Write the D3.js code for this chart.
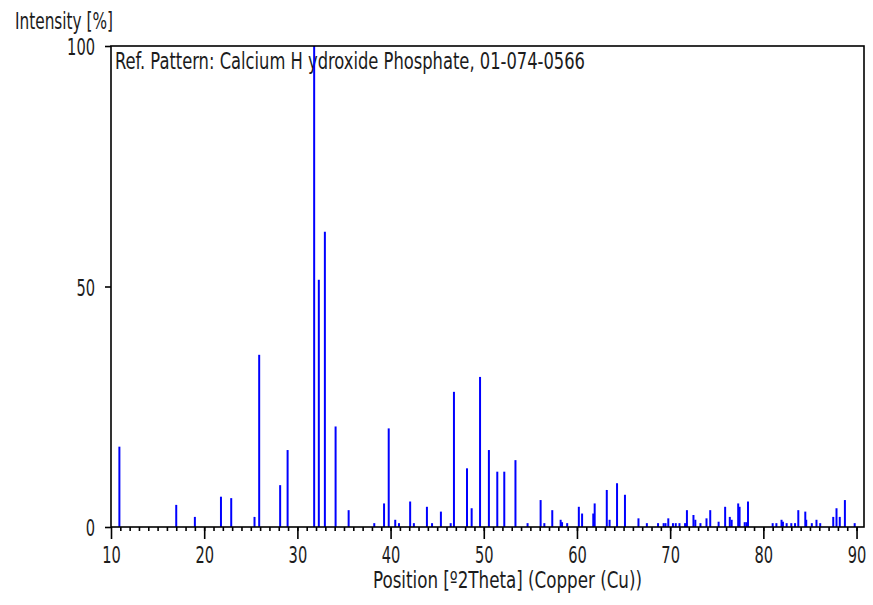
<!DOCTYPE html>
<html>
<head>
<meta charset="utf-8">
<script src="https://cdn.jsdelivr.net/npm/d3@7"></script>
<style>
  body { margin: 0; background: #fff; }
  text { font-family: "Liberation Sans Narrow", "Arial Narrow", "DejaVu Sans Condensed", sans-serif; fill: #1c1c1c; }
</style>
</head>
<body>
<svg width="873" height="605"></svg>
<script>
// reference pattern: peak positions (deg 2theta) and relative intensities (%)
const positions = [
  10.9, 17.0, 19.0, 21.8, 22.9, 25.4, 25.9, 28.15, 28.95,
  31.8, 32.3, 32.95, 34.1, 35.5, 38.25, 39.3, 39.8, 40.5, 40.9,
  42.1, 42.5, 43.9, 44.45, 45.4, 46.45, 46.8, 48.2, 48.7, 49.6,
  50.55, 51.45, 52.2, 53.4, 54.7, 56.1, 56.5, 57.35, 58.25, 58.4, 58.95,
  60.2, 60.55, 61.75, 61.9, 63.2, 63.5, 64.3, 65.15, 66.6, 67.5, 68.7,
  69.3, 69.5, 69.8, 70.3, 70.6, 71.0, 71.6, 71.8, 72.5, 72.7, 73.25,
  73.9, 74.3, 75.2, 75.9, 76.4, 76.6, 77.3, 77.45, 78.0, 78.2, 78.35,
  81.0, 81.4, 81.95, 82.1, 82.5, 83.0, 83.4, 83.75, 84.5, 84.6, 85.2,
  85.7, 86.1, 87.5, 87.85, 88.2, 88.75, 89.8
];
const intensities = [
  16.7, 4.6, 2.1, 6.3, 6.0, 2.1, 35.8, 8.7, 16.0,
  100, 51.4, 61.4, 20.9, 3.5, 0.8, 4.9, 20.5, 1.5, 0.8,
  5.3, 0.8, 4.2, 0.8, 3.2, 0.8, 28.1, 12.2, 3.9, 31.2,
  16.0, 11.5, 11.5, 13.9, 0.8, 5.6, 0.8, 3.5, 1.5, 1.0, 0.8,
  4.2, 2.8, 2.8, 4.9, 7.7, 1.5, 9.1, 6.7, 1.8, 0.8, 0.8,
  0.8, 0.8, 1.8, 0.8, 0.8, 0.8, 0.8, 3.5, 2.5, 1.5, 0.8,
  1.8, 3.5, 1.1, 4.2, 2.1, 1.5, 4.9, 4.2, 1.0, 1.0, 5.3,
  0.8, 0.8, 1.5, 1.1, 0.8, 0.8, 0.8, 3.5, 3.2, 1.5, 0.8,
  1.5, 0.8, 2.1, 3.9, 2.1, 5.6, 0.8
];
const xMajorTicks = [10, 20, 30, 40, 50, 60, 70, 80, 90];
const yTicks = [0, 50, 100];

const peaks = positions.map((p, i) => ({ pos: p, int: intensities[i] }));

const svg = d3.select("svg");
const stretch = "scale(1,1.15)";

const x = d3.scaleLinear().domain([10, 90.8]).range([111, 864]);
const y = d3.scaleLinear().domain([0, 100]).range([527, 46]);

// texts
svg.append("text")
  .attr("transform", "translate(115,69) " + stretch)
  .attr("textLength", 470)
  .attr("lengthAdjust", "spacingAndGlyphs")
  .style("font-size", "20.5px")
  .text("Ref. Pattern: Calcium H ydroxide Phosphate, 01-074-0566");

svg.append("text")
  .attr("transform", "translate(15,29) " + stretch)
  .attr("textLength", 98)
  .attr("lengthAdjust", "spacingAndGlyphs")
  .style("font-size", "20.5px")
  .text("Intensity [%]");

svg.append("text")
  .attr("transform", "translate(373,588) " + stretch)
  .attr("textLength", 269)
  .attr("lengthAdjust", "spacingAndGlyphs")
  .style("font-size", "20.5px")
  .text("Position [º2Theta] (Copper (Cu))");

// peaks
svg.append("g")
  .selectAll("line")
  .data(peaks)
  .join("line")
  .attr("x1", d => x(d.pos))
  .attr("x2", d => x(d.pos))
  .attr("y1", y(0))
  .attr("y2", d => y(d.int))
  .attr("stroke", "#0000ff")
  .attr("stroke-width", 2);

// frame
svg.append("rect")
  .attr("x", x.range()[0])
  .attr("y", y.range()[1])
  .attr("width", x.range()[1] - x.range()[0])
  .attr("height", y.range()[0] - y.range()[1])
  .attr("fill", "none")
  .attr("stroke", "#000")
  .attr("stroke-width", 1.6);

// x axis minor ticks
const minor = svg.append("g")
  .attr("transform", `translate(0,${y(0)})`)
  .call(d3.axisBottom(x).tickValues(d3.range(11, 91)).tickSize(4).tickFormat(""));
minor.select(".domain").remove();
minor.selectAll("line").attr("stroke-width", 1.6);

// x axis major ticks
const xAxis = svg.append("g")
  .attr("transform", `translate(0,${y(0)})`)
  .call(d3.axisBottom(x).tickValues(xMajorTicks).tickSize(12));
xAxis.select(".domain").remove();
xAxis.selectAll("line").attr("stroke-width", 1.6);
xAxis.selectAll("text")
  .attr("y", 31.3)
  .attr("dy", null)
  .attr("transform", stretch)
  .attr("fill", "#1c1c1c")
  .attr("textLength", d => String(d).length * 9.3)
  .attr("lengthAdjust", "spacingAndGlyphs")
  .style("font-size", "20.5px")
  .style("font-family", null);

// y axis
const yAxis = svg.append("g")
  .attr("transform", `translate(${x(10)},0)`)
  .call(d3.axisLeft(y).tickValues(yTicks).tickSize(6).tickPadding(10));
yAxis.select(".domain").remove();
yAxis.selectAll("line").attr("stroke-width", 1.6);
yAxis.selectAll("text")
  .attr("dy", null)
  .attr("y", 7.4)
  .attr("transform", stretch)
  .attr("fill", "#1c1c1c")
  .attr("textLength", d => String(d).length * 9.3)
  .attr("lengthAdjust", "spacingAndGlyphs")
  .style("font-size", "20.5px")
  .style("font-family", null);
</script>
</body>
</html>
